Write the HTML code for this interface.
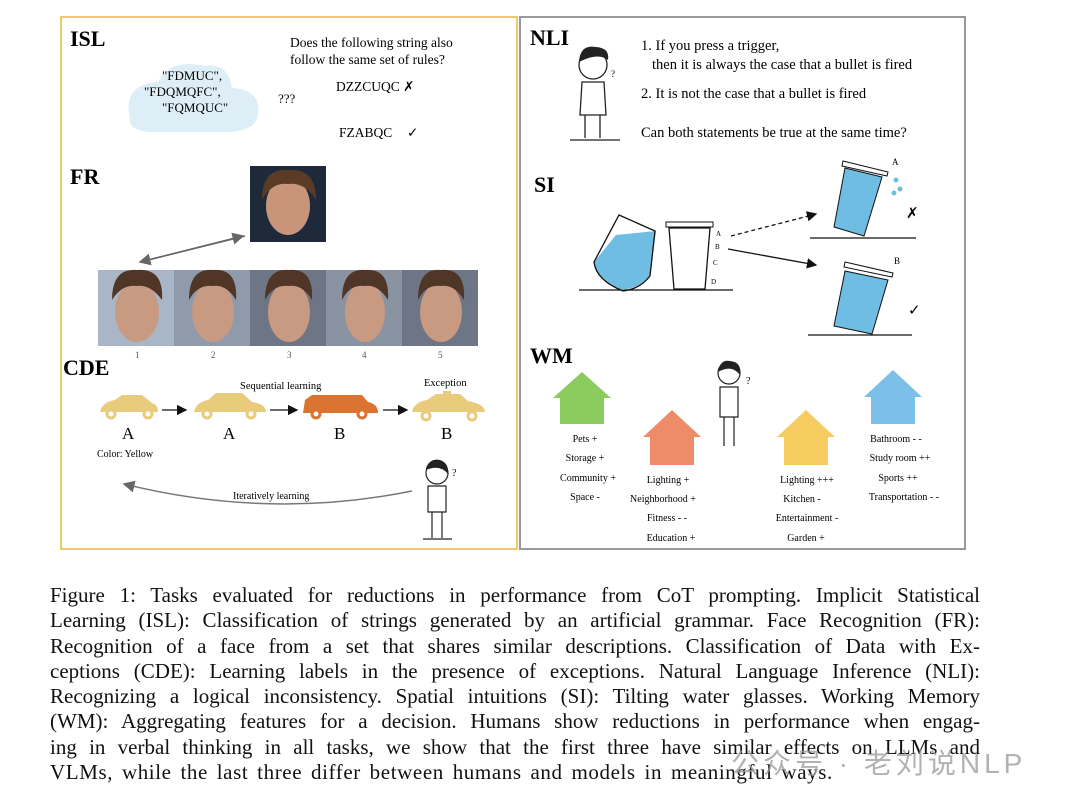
<!DOCTYPE html>
<html><head><meta charset="utf-8"><style>
html,body{margin:0;padding:0;background:#fff;}
body{width:1080px;height:802px;position:relative;overflow:hidden;}
svg{position:absolute;left:0;top:0;}
.cap{position:absolute;left:50px;top:583px;width:930px;font-family:"Liberation Serif",serif;font-size:21px;line-height:25.3px;color:#111;}
.cap div{text-align:justify;text-align-last:justify;white-space:nowrap;}
.cap div.last{text-align-last:left;letter-spacing:0.6px;word-spacing:3px;}
.wm{position:absolute;left:731px;top:742px;font-family:"Liberation Sans","Noto Sans CJK SC",sans-serif;font-size:28px;letter-spacing:4px;color:#999;opacity:.75;}
</style></head><body>
<svg width="1080" height="802" viewBox="0 0 1080 802" font-family="Liberation Serif, serif">
<defs>
<marker id="ah" markerWidth="8" markerHeight="8" refX="7" refY="4" orient="auto"><path d="M0,0 L8,4 L0,8z" fill="#111"/></marker>
<marker id="ag" markerWidth="8" markerHeight="8" refX="7" refY="4" orient="auto"><path d="M0,0 L8,4 L0,8z" fill="#666"/></marker>
</defs>
<rect x="61" y="17" width="456" height="532" fill="none" stroke="#f0c86c" stroke-width="2"/>
<rect x="520" y="17" width="445" height="532" fill="none" stroke="#999" stroke-width="2"/>
<!-- ISL -->
<text x="70" y="46" font-size="22" font-weight="bold">ISL</text>
<path d="M130,118 Q122,85 158,82 Q170,58 205,66 Q228,62 232,88 Q262,90 258,115 Q255,132 225,132 L150,132 Q128,130 130,118z" fill="#ddeef7"/>
<g font-size="13"><text x="162" y="80">"FDMUC",</text><text x="144" y="96">"FDQMQFC",</text><text x="162" y="112">"FQMQUC"</text>
<text x="278" y="103">???</text></g>
<g font-size="13.5"><text x="290" y="47">Does the following string also</text><text x="290" y="64">follow the same set of rules?</text>
<text x="336" y="91">DZZCUQC ✗</text><text x="339" y="137">FZABQC</text><text x="407" y="137">✓</text></g>
<!-- FR -->
<text x="70" y="184" font-size="22" font-weight="bold">FR</text>
<rect x="250" y="166" width="76" height="76" fill="#1e2a3a"/>
<ellipse cx="288" cy="206" rx="22" ry="29" fill="#c8957a"/><path d="M262,200 Q262,168 288,170 Q316,168 316,200 Q305,182 288,184 Q272,182 262,200z" fill="#5a3b26"/>
<line x1="245" y1="236" x2="140" y2="262" stroke="#666" stroke-width="1.5" marker-end="url(#ag)"/>
<line x1="140" y1="262" x2="243" y2="236" stroke="#666" stroke-width="1.5" marker-end="url(#ag)"/>
<g>
<rect x="98" y="270" width="76" height="76" fill="#a9b6c8"/><rect x="174" y="270" width="76" height="76" fill="#8f9aab"/><rect x="250" y="270" width="76" height="76" fill="#6e7685"/><rect x="326" y="270" width="76" height="76" fill="#8a93a1"/><rect x="402" y="270" width="76" height="76" fill="#6d7587"/>
<g fill="#c99a82"><ellipse cx="137" cy="312" rx="22" ry="30"/><ellipse cx="213" cy="312" rx="21" ry="30"/><ellipse cx="289" cy="312" rx="21" ry="30"/><ellipse cx="365" cy="312" rx="20" ry="30"/><ellipse cx="441" cy="312" rx="21" ry="30"/></g>
<g fill="#4f3626"><path d="M112,300 Q112,268 137,270 Q164,268 162,300 Q150,284 137,286 Q122,284 112,300z"/><path d="M189,300 Q189,268 213,270 Q238,268 236,300 Q226,284 213,286 Q198,284 189,300z"/><path d="M265,300 Q265,268 289,270 Q314,268 312,300 Q302,284 289,286 Q274,284 265,300z"/><path d="M342,300 Q342,268 365,270 Q390,268 388,300 Q378,284 365,286 Q350,284 342,300z"/><path d="M418,300 Q418,268 441,270 Q466,268 464,300 Q454,284 441,286 Q426,284 418,300z"/></g>
</g>
<g font-size="9" fill="#555"><text x="135" y="358">1</text><text x="211" y="358">2</text><text x="287" y="358">3</text><text x="362" y="358">4</text><text x="438" y="358">5</text></g>
<!-- CDE -->
<text x="63" y="375" font-size="22" font-weight="bold">CDE</text>
<text x="240" y="389" font-size="10.5">Sequential learning</text><text x="424" y="386" font-size="10.5">Exception</text>
<g fill="#e9cb7c"><path d="M100,412 Q102,402 115,400 L122,395 L142,395 L152,403 Q158,405 158,412z"/><path d="M194,412 Q196,402 208,400 L216,393 L242,393 L252,402 Q266,404 266,412z"/><path d="M412,412 Q414,402 427,400 L436,394 L460,394 L468,401 Q485,404 485,412z"/><rect x="443" y="391" width="8" height="4"/></g>
<path d="M303,413 L305,400 L312,395 L362,395 L368,402 Q378,404 378,413z" fill="#db7430"/>
<g fill="#fff" stroke-width="3"><circle cx="111" cy="414" r="4" stroke="#e9cb7c"/><circle cx="148" cy="414" r="4" stroke="#e9cb7c"/><circle cx="207" cy="414" r="4" stroke="#e9cb7c"/><circle cx="251" cy="414" r="4" stroke="#e9cb7c"/><circle cx="316" cy="414" r="4" stroke="#db7430"/><circle cx="362" cy="414" r="4" stroke="#db7430"/><circle cx="426" cy="416" r="4" stroke="#e9cb7c"/><circle cx="472" cy="416" r="4" stroke="#e9cb7c"/></g>
<g stroke="#111" stroke-width="1.3"><line x1="162" y1="410" x2="186" y2="410" marker-end="url(#ah)"/><line x1="270" y1="410" x2="297" y2="410" marker-end="url(#ah)"/><line x1="383" y1="410" x2="407" y2="410" marker-end="url(#ah)"/></g>
<g font-size="17"><text x="122" y="439">A</text><text x="223" y="439">A</text><text x="334" y="439">B</text><text x="441" y="439">B</text></g>
<text x="97" y="457" font-size="10">Color: Yellow</text>
<path d="M412,491 Q270,520 124,484" fill="none" stroke="#777" stroke-width="1.5" marker-end="url(#ag)"/>
<text x="233" y="499" font-size="10">Iteratively learning</text>
<g stroke="#222" fill="none" stroke-width="1.2"><circle cx="437" cy="473" r="11"/><path d="M428,486 L428,512 L446,512 L446,486z M432,512 L432,538 M442,512 L442,538 M423,539 L452,539"/></g>
<path d="M426,468 Q430,458 440,460 Q449,463 448,474 Q440,464 426,470z" fill="#222"/><text x="452" y="476" font-size="10">?</text>
<!-- NLI -->
<text x="530" y="45" font-size="22" font-weight="bold">NLI</text>
<g stroke="#222" fill="none" stroke-width="1.3"><circle cx="593" cy="65" r="14"/><path d="M582,82 L580,115 L606,115 L604,82z M585,115 L585,138 M600,115 L600,138 M570,140 L620,140"/></g>
<path d="M579,62 Q580,44 596,47 Q610,48 608,60 Q598,52 579,62z" fill="#222"/><text x="611" y="77" font-size="9">?</text>
<g font-size="14.5"><text x="641" y="50">1. If you press a trigger,</text><text x="652" y="69">then it is always  the case that a bullet is fired</text>
<text x="641" y="98">2. It is not the case that a bullet is fired</text><text x="641" y="137">Can both statements be true at the same time?</text></g>
<!-- SI -->
<text x="534" y="192" font-size="22" font-weight="bold">SI</text>
<line x1="579" y1="290" x2="733" y2="290" stroke="#111" stroke-width="1.3"/>
<path d="M616,235 L656,231 L650,276 Q640,288 622,290 Q596,278 594,262z" fill="#6fbde3"/>
<path d="M619,215 L655,231 L650,276 Q640,289 623,291 Q596,280 594,262z" fill="none" stroke="#111" stroke-width="1.3"/>
<path d="M669,228 L674,289 L705,289 L710,228z" fill="none" stroke="#111" stroke-width="1.3"/><rect x="666" y="222" width="47" height="5" fill="#fff" stroke="#111"/>
<g font-size="7"><text x="716" y="236">A</text><text x="715" y="249">B</text><text x="713" y="265">C</text><text x="711" y="284">D</text></g>
<line x1="731" y1="236" x2="816" y2="214" stroke="#111" stroke-width="1.3" stroke-dasharray="4,3" marker-end="url(#ah)"/>
<line x1="728" y1="249" x2="816" y2="265" stroke="#111" stroke-width="1.3" marker-end="url(#ah)"/>
<line x1="810" y1="238" x2="916" y2="238" stroke="#111" stroke-width="1.2"/><line x1="808" y1="335" x2="912" y2="335" stroke="#111" stroke-width="1.2"/>
<path d="M845,168 L882,177 L864,236 L834,227z" fill="#6fbde3" stroke="#111"/><path d="M843,161 L888,172 L887,176 L842,166z" fill="#fff" stroke="#111"/>
<path d="M845,271 L888,280 L872,334 L834,326z" fill="#6fbde3" stroke="#111"/><path d="M845,262 L893,273 L892,277 L844,267z" fill="#fff" stroke="#111"/>
<g fill="#6fbde3"><circle cx="896" cy="180" r="2.5"/><circle cx="900" cy="189" r="2.5"/><circle cx="894" cy="193" r="2.5"/></g>
<text x="892" y="165" font-size="9">A</text><text x="894" y="264" font-size="9">B</text>
<text x="906" y="218" font-size="15">✗</text><text x="908" y="315" font-size="15">✓</text>
<!-- WM -->
<text x="530" y="363" font-size="22" font-weight="bold">WM</text>
<path d="M553,398 L582,372 L611,398 L604,398 L604,424 L560,424 L560,398z" fill="#8ccb5e"/>
<path d="M643,437 L672,410 L701,437 L694,437 L694,465 L650,465 L650,437z" fill="#ee8c6a"/>
<path d="M777,437 L806,410 L835,437 L828,437 L828,465 L784,465 L784,437z" fill="#f6cb60"/>
<path d="M864,397 L893,370 L922,397 L915,397 L915,424 L871,424 L871,397z" fill="#7cc0e9"/>
<g stroke="#222" fill="none" stroke-width="1.2"><circle cx="729" cy="373" r="11"/><path d="M720,387 L720,417 L738,417 L738,387z M724,417 L724,446 M734,417 L734,446"/></g>
<path d="M718,372 Q720,359 730,361 Q742,362 740,375 Q732,364 718,372z" fill="#222"/><text x="746" y="384" font-size="10">?</text>
<g font-size="10" text-anchor="middle"><text x="585" y="442">Pets +</text><text x="585" y="461">Storage +</text><text x="588" y="481">Community +</text><text x="585" y="500">Space -</text>
<text x="668" y="483">Lighting +</text><text x="663" y="502">Neighborhood +</text><text x="667" y="521">Fitness - -</text><text x="671" y="541">Education +</text>
<text x="807" y="483">Lighting +++</text><text x="802" y="502">Kitchen -</text><text x="807" y="521">Entertainment -</text><text x="806" y="541">Garden +</text>
<text x="896" y="442">Bathroom - -</text><text x="900" y="461">Study room ++</text><text x="898" y="481">Sports ++</text><text x="904" y="500">Transportation - -</text></g>
</svg>
<div class="cap">
<div>Figure 1: Tasks evaluated for reductions in performance from CoT prompting. Implicit Statistical</div>
<div>Learning (ISL): Classification of strings generated by an artificial grammar. Face Recognition (FR):</div>
<div>Recognition of a face from a set that shares similar descriptions. Classification of Data with Ex-</div>
<div>ceptions (CDE): Learning labels in the presence of exceptions. Natural Language Inference (NLI):</div>
<div>Recognizing a logical inconsistency. Spatial intuitions (SI): Tilting water glasses. Working Memory</div>
<div>(WM): Aggregating features for a decision. Humans show reductions in performance when engag-</div>
<div>ing in verbal thinking in all tasks, we show that the first three have similar effects on LLMs and</div>
<div class="last">VLMs, while the last three differ between humans and models in meaningful ways.</div>
</div>
<div class="wm">公众号 · 老刘说NLP</div>
</body></html>
